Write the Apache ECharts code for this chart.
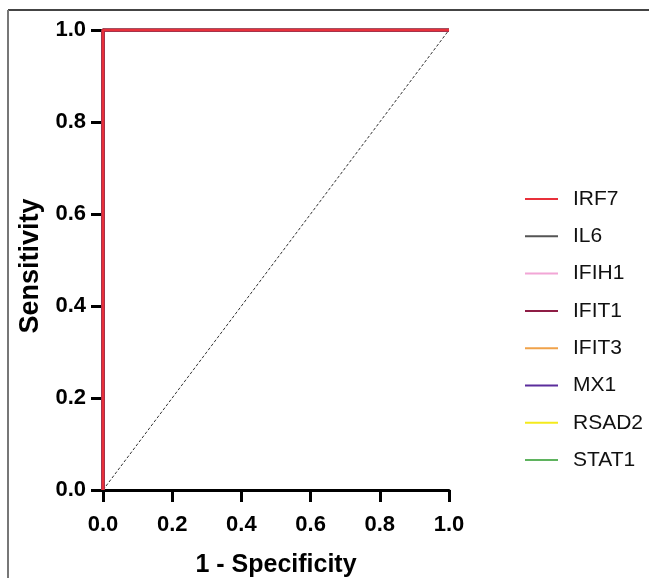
<!DOCTYPE html>
<html>
<head>
<meta charset="utf-8">
<script src="https://cdn.jsdelivr.net/npm/echarts@6/dist/echarts.min.js"></script>
<style>html,body{margin:0;padding:0;background:#fff}#c{width:649px;height:578px}</style>
</head>
<body>
<div id="c"></div>
<script>
// ---- data ----
const genes = ['IRF7', 'IL6', 'IFIH1', 'IFIT1', 'IFIT3', 'MX1', 'RSAD2', 'STAT1'];
const IRF7_fpr = [0, 0, 1];  const IRF7_tpr = [0, 1, 1];
const IL6_fpr = [0, 0, 1];   const IL6_tpr = [0, 1, 1];
const IFIH1_fpr = [0, 0, 1]; const IFIH1_tpr = [0, 1, 1];
const IFIT1_fpr = [0, 0, 1]; const IFIT1_tpr = [0, 1, 1];
const IFIT3_fpr = [0, 0, 1]; const IFIT3_tpr = [0, 1, 1];
const MX1_fpr = [0, 0, 1];   const MX1_tpr = [0, 1, 1];
const RSAD2_fpr = [0, 0, 1]; const RSAD2_tpr = [0, 1, 1];
const STAT1_fpr = [0, 0, 1]; const STAT1_tpr = [0, 1, 1];
const refLineX = [0, 1];
const refLineY = [0, 1];

const curveFPR = {IRF7: IRF7_fpr, IL6: IL6_fpr, IFIH1: IFIH1_fpr, IFIT1: IFIT1_fpr, IFIT3: IFIT3_fpr, MX1: MX1_fpr, RSAD2: RSAD2_fpr, STAT1: STAT1_fpr};
const curveTPR = {IRF7: IRF7_tpr, IL6: IL6_tpr, IFIH1: IFIH1_tpr, IFIT1: IFIT1_tpr, IFIT3: IFIT3_tpr, MX1: MX1_tpr, RSAD2: RSAD2_tpr, STAT1: STAT1_tpr};

// ---- styles ----
const palette = {IRF7: '#e8303a', IL6: '#555555', IFIH1: '#f2a6d6', IFIT1: '#8e1d45', IFIT3: '#f0a24a', MX1: '#5b2d9c', RSAD2: '#f4ea1c', STAT1: '#5fb35f'};
const drawOrder = ['STAT1', 'RSAD2', 'MX1', 'IFIT3', 'IFIH1', 'IL6', 'IFIT1', 'IRF7'];
const FONT = 'Liberation Sans, Arial, sans-serif';

const zip = (a, b) => a.map((v, i) => [v, b[i]]);

const series = [{
  name: 'ref', type: 'line', silent: true, symbol: 'none',
  data: zip(refLineX, refLineY),
  lineStyle: {color: '#333', width: 1, type: [3, 2]}, z: 1
}];
drawOrder.forEach((g, i) => {
  series.push({
    name: g, type: 'line', symbol: 'none',
    data: zip(curveFPR[g], curveTPR[g]),
    lineStyle: {color: palette[g], width: g === 'IRF7' ? 2.5 : (g === 'IFIT1' ? 3.5 : 3)},
    itemStyle: {color: palette[g]},
    z: 2 + i
  });
});

const chart = echarts.init(document.getElementById('c'), null, {renderer: 'canvas'});
const axisCommon = {
  type: 'value', min: 0, max: 1, interval: 0.2,
  axisLine: {show: true, onZero: false, lineStyle: {color: '#000', width: 3}},
  axisTick: {show: true, inside: false, length: 12, lineStyle: {color: '#000', width: 3}},
  splitLine: {show: false},
  axisLabel: {color: '#000', fontSize: 22, fontWeight: 'bold', fontFamily: FONT, formatter: v => v.toFixed(1)},
  nameLocation: 'middle'
};
chart.setOption({
  animation: false,
  backgroundColor: '#fff',
  grid: {left: 103, right: 200, top: 30, bottom: 88, containLabel: false, outerBoundsMode: 'none'},
  xAxis: Object.assign({}, axisCommon, {
    name: '1 - Specificity', nameGap: 63,
    nameTextStyle: {color: '#000', fontSize: 25, fontWeight: 'bold', fontFamily: FONT},
    axisLabel: Object.assign({}, axisCommon.axisLabel, {margin: 24})
  }),
  yAxis: Object.assign({}, axisCommon, {
    name: 'Sensitivity', nameGap: 56,
    nameTextStyle: {color: '#000', fontSize: 27, fontWeight: 'bold', fontFamily: FONT, padding: [0, 12, 0, 0]},
    axisLabel: Object.assign({}, axisCommon.axisLabel, {margin: 17})
  }),
  legend: {
    data: genes, orient: 'vertical', left: 520, top: 182,
    icon: 'rect', itemWidth: 33, itemHeight: 2, itemGap: 13.3,
    textStyle: {color: '#111', fontSize: 21, lineHeight: 24, padding: [0, 0, 0, 10], fontFamily: FONT},
    selectedMode: false
  },
  graphic: [
    {type: 'line', shape: {x1: 8, y1: 10, x2: 649, y2: 10}, style: {stroke: '#444', lineWidth: 2}},
    {type: 'line', shape: {x1: 8, y1: 10, x2: 8, y2: 578}, style: {stroke: '#777', lineWidth: 2}}
  ],
  series: series
});
</script>
</body>
</html>
